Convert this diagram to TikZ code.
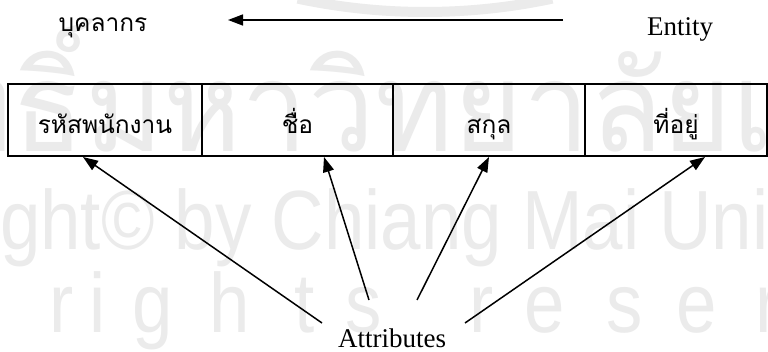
\documentclass[tikz,border=0pt]{standalone}
\usepackage{fontspec}
\setmainfont{Liberation Serif}
\newfontfamily\thaifont[Script=Thai]{Loma}
\newfontfamily\wmthaifont[Script=Thai,FakeStretch=0.95]{Loma}
\newfontfamily\wmsans[FakeStretch=0.865]{Liberation Sans}
\usetikzlibrary{arrows.meta}

\begin{document}
\begin{tikzpicture}[x=1pt,y=-1pt,
  cell/.style={draw,line width=1.4pt,minimum height=72pt,inner sep=0pt},
  thaitext/.style={inner sep=0pt,anchor=base,font=\thaifont\fontsize{24.5}{28}\selectfont},
  lattext/.style={inner sep=0pt,anchor=base,font=\fontsize{27}{30}\selectfont},
  link/.style={line width=1.5pt,-{Triangle[length=15pt,width=11pt]}},
  wmtext/.style={inner sep=0pt,text=black!8},
  wmband/.style={draw=black!8}]

\useasboundingbox (0,0) rectangle (768,352);
\fill[white] (0,0) rectangle (768,352);

% faint copyright watermark behind the diagram
\begin{scope}
  \clip (0,0) rectangle (768,352);
  \draw[wmband,line width=10pt] (425,-600) ++(78:612) arc[start angle=78,end angle=102,radius=612];
  \node[wmtext,anchor=base west,font=\wmthaifont\fontsize{125}{125}\selectfont]
    (wmthai) at (-292,152) {ลิขสิทธิ์มหาวิทยาลัยเชียงใหม่};
  \node[wmtext,anchor=base west,font=\wmsans\fontsize{84}{84}\selectfont]
    (wmcopy) at (-210,250) {Copyright© by Chiang Mai University};
  \foreach \ch/\xx [count=\k] in {r/62,i/98,g/153,h/230,t/305,s/364,r/482,e/545,s/625,e/697,r/768}
    \node[wmtext,anchor=base,font=\wmsans\fontsize{84}{84}\selectfont] (wmr\k) at (\xx,333) {\ch};
\end{scope}

% entity name and its label
\node[thaitext] (entname) at (103,32) {บุคลากร};
\node[lattext] (entlabel) at (680,36) {Entity};
\coordinate (entfrom) at (563,20);
\coordinate (entto) at (228,20);
\draw[link] (entfrom) -- (entto);

% attribute cells of the record
\node[cell,minimum width=194pt] (c1) at (105,120) {};
\node[cell,minimum width=191pt] (c2) at (297.5,120) {};
\node[cell,minimum width=192pt] (c3) at (489,120) {};
\node[cell,minimum width=182pt] (c4) at (676,120) {};
\node[thaitext,yshift=-14pt] (n1) at (c1.center) {รหัสพนักงาน};
\node[thaitext,yshift=-14pt] (n2) at (c2.center) {ชื่อ};
\node[thaitext,yshift=-14pt] (n3) at (c3.center) {สกุล};
\node[thaitext,yshift=-14pt] (n4) at (c4.center) {ที่อยู่};

% attributes label and its arrows up to the cells
\node[lattext] (attr) at (392,348) {Attributes};
\coordinate (s1) at (322,323);
\coordinate (s2) at (369,300);
\coordinate (s3) at (417,300);
\coordinate (s4) at (465,323);
\coordinate (t1) at (83,157);
\coordinate (t2) at (324,157);
\coordinate (t3) at (489,157);
\coordinate (t4) at (705,157);
\foreach \k in {1,...,4}
  \draw[link] (s\k) -- (t\k);
\end{tikzpicture}
\end{document}
